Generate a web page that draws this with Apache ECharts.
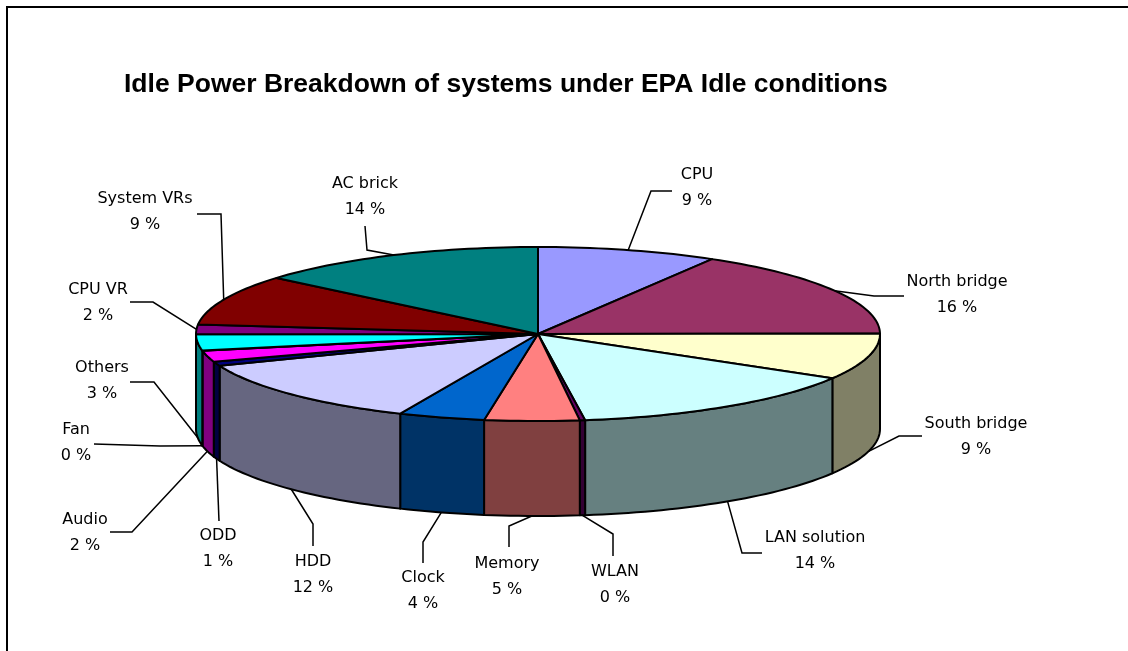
<!DOCTYPE html>
<html>
<head>
<meta charset="utf-8">
<title>Idle Power Breakdown</title>
<script src="https://cdn.jsdelivr.net/npm/echarts@6/dist/echarts.min.js"></script>
<style>
html, body { margin: 0; padding: 0; background: #fff; }
#chart { width: 1128px; height: 651px; }
</style>
</head>
<body>
<div id="chart"></div>
<script>
const chartTitle = 'Idle Power Breakdown of systems under EPA Idle conditions';
const categories = ['CPU', 'North bridge', 'South bridge', 'LAN solution', 'WLAN', 'Memory', 'Clock', 'HDD', 'ODD', 'Audio', 'Fan', 'Others', 'CPU VR', 'System VRs', 'AC brick'];
// slice sizes, estimated from the angles in the picture
const sliceValues = [8.5, 16.4, 8.6, 14.3, 0.25, 4.47, 4.08, 12.45, 0.8, 2.05, 0.05, 3, 1.8, 9.4, 13.85];
// percentages as printed on the labels
const percentLabels = [9, 16, 9, 14, 0, 5, 4, 12, 1, 2, 0, 3, 2, 9, 14];
const capColors = ['#9999FF', '#993366', '#FFFFCC', '#CCFFFF', '#660066', '#FF8080', '#0066CC', '#CCCCFF', '#000080', '#FF00FF', '#FFFF00', '#00FFFF', '#800080', '#800000', '#008080'];
const wallColors = ['#666680', '#4D1A33', '#808066', '#668080', '#330033', '#804040', '#003366', '#666680', '#000040', '#800080', '#808000', '#008080', '#400040', '#400000', '#004040'];

// layout of the callouts, in pixels: [label centre x, first line y, elbow points...]
const calloutLayout = [
  [697, 175, [[651, 191], [672, 191]]],
  [957, 282, [[874, 296], [904, 296]]],
  [976, 424, [[899, 436], [922, 436]]],
  [815, 538, [[742, 553], [762, 553]]],
  [615, 572, [[613, 534], [613, 556]]],
  [507, 564, [[509, 526], [509, 547]]],
  [423, 578, [[423, 542], [423, 563]]],
  [313, 562, [[313, 524], [313, 546]]],
  [218, 536, [[219, 521]]],
  [85, 520, [[132, 532], [110, 532]]],
  [76, 430, [[160, 446], [94, 444]]],
  [102, 368, [[154, 382], [130, 382]]],
  [98, 290, [[153, 302], [130, 302]]],
  [145, 199, [[221, 214], [197, 214]]],
  [365, 184, [[367, 250], [365, 226]]]
];

const DEPTH = 1.092; // pie thickness in units of the vertical radius
const total = sliceValues.reduce((a, b) => a + b, 0);

let cum = 0;
const sliceRows = sliceValues.map((v, i) => {
  const row = [cum / total, (cum + v) / total, i];
  cum += v;
  return row;
});

// fraction of the circle (clockwise from the top) to a point on the unit ellipse
function rimPoint(frac, drop) {
  const a = frac * Math.PI * 2;
  return [Math.sin(a), Math.cos(a) - (drop || 0)];
}

function arcPoints(from, to, drop) {
  const steps = Math.max(2, Math.ceil((to - from) * 240));
  const pts = [];
  for (let s = 0; s <= steps; s++) {
    pts.push(rimPoint(from + (to - from) * s / steps, drop));
  }
  return pts;
}

function renderWall(params, api) {
  const from = Math.max(api.value(0), 0.25);
  const to = Math.min(api.value(1), 0.75);
  if (to <= from) return { type: 'group', children: [] };
  const upper = arcPoints(from, to, 0);
  const lower = arcPoints(from, to, DEPTH).reverse();
  return {
    type: 'polygon',
    shape: { points: upper.concat(lower).map(p => api.coord(p)) },
    style: { fill: wallColors[api.value(2)], stroke: '#000', lineWidth: 2, lineJoin: 'round' }
  };
}

function renderCap(params, api) {
  const pts = [[0, 0]].concat(arcPoints(api.value(0), api.value(1), 0));
  return {
    type: 'polygon',
    shape: { points: pts.map(p => api.coord(p)) },
    style: { fill: capColors[api.value(2)], stroke: '#000', lineWidth: 2, lineJoin: 'round' }
  };
}

function renderCallout(params, api) {
  const i = api.value(2);
  const mid = (api.value(0) + api.value(1)) / 2;
  const a = mid * 360;
  const onWall = a > 90 && a < 270;
  const start = api.coord(rimPoint(mid, onWall ? DEPTH : 0));
  const layout = calloutLayout[i];
  const font = '16px "DejaVu Sans"';
  return {
    type: 'group',
    children: [
      {
        type: 'polyline',
        shape: { points: [start].concat(layout[2]) },
        style: { fill: null, stroke: '#000', lineWidth: 1.5 }
      },
      {
        type: 'text',
        style: { x: layout[0], y: layout[1], text: categories[i], font: font, fill: '#000', align: 'center', verticalAlign: 'middle' }
      },
      {
        type: 'text',
        style: { x: layout[0], y: layout[1] + 26, text: percentLabels[i] + ' %', font: font, fill: '#000', align: 'center', verticalAlign: 'middle' }
      }
    ]
  };
}

const chart = echarts.init(document.getElementById('chart'), null, { renderer: 'canvas' });
chart.setOption({
  animation: false,
  backgroundColor: '#fff',
  title: {
    text: chartTitle,
    left: 119,
    top: 66,
    textStyle: { fontFamily: 'Liberation Sans', fontWeight: 'bold', fontSize: 26.5, color: '#000' }
  },
  tooltip: { show: false },
  grid: { left: 196, width: 684, top: 247, height: 269.7 },
  xAxis: { type: 'value', min: -1, max: 1, show: false },
  yAxis: { type: 'value', min: -2.1, max: 1, show: false },
  // page frame: only left and top edges fall inside the picture
  graphic: [{
    type: 'rect',
    shape: { x: 7, y: 7, width: 1200, height: 700 },
    style: { fill: null, stroke: '#000', lineWidth: 2 },
    silent: true
  }],
  series: [
    { type: 'custom', clip: false, renderItem: renderWall, data: sliceRows, encode: { x: 0, y: 1 }, z: 2 },
    { type: 'custom', clip: false, renderItem: renderCap, data: sliceRows, encode: { x: 0, y: 1 }, z: 3 },
    { type: 'custom', clip: false, renderItem: renderCallout, data: sliceRows, encode: { x: 0, y: 1 }, z: 4 }
  ]
});
</script>
</body>
</html>
